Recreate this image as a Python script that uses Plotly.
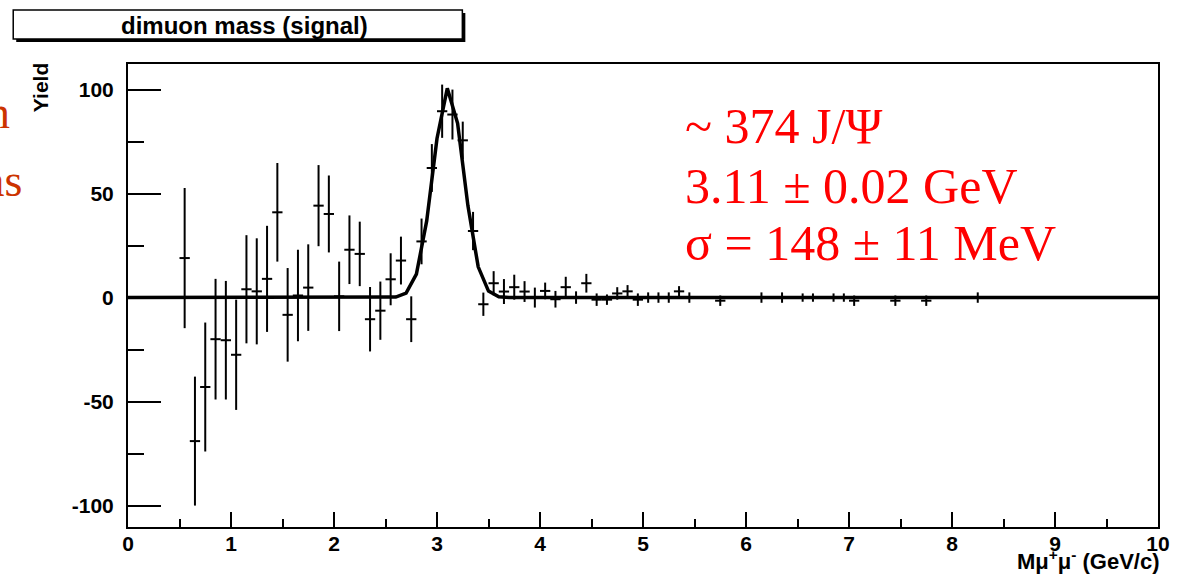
import numpy as np
import plotly.graph_objects as go

# Background-subtracted dimuon mass spectrum (0.1 GeV/c bins)
mass_bins = [0.55, 0.65, 0.75, 0.85, 0.95, 1.05, 1.15, 1.25, 1.35, 1.45,
             1.55, 1.65, 1.75, 1.85, 1.95, 2.05, 2.15, 2.25, 2.35, 2.45,
             2.55, 2.65, 2.75, 2.85, 2.95, 3.05, 3.15, 3.25, 3.35, 3.45,
             3.55, 3.65, 3.75, 3.85, 3.95, 4.05, 4.15, 4.25, 4.35, 4.45,
             4.55, 4.65, 4.75, 4.85, 4.95, 5.05, 5.15, 5.25, 5.35, 5.45,
             5.75, 6.15, 6.35, 6.55, 6.65, 6.85, 6.95, 7.05, 7.45, 7.75,
             8.25]
yield_vals = [19.0, -69.0, -43.0, -20.0, -20.5, -27.5, 4.0, 3.0, 9.0, 41.0,
              -8.3, 1.0, 4.8, 44.2, 40.2, 0.6, 23.0, 21.0, -10.4, -6.3,
              8.8, 17.8, -10.4, 27.0, 62.3, 89.6, 88.0, 75.6, 32.0, -3.2,
              6.9, 2.9, 5.0, 2.9, 0.0, 3.2, -0.8, 5.0, 0.0, 6.9,
              -1.0, -1.0, 2.0, 3.0, -1.0, 0.0, 0.0, 0.0, 3.0, 0.0,
              -1.5, 0.0, 0.0, 0.0, 0.0, 0.0, 0.0, -1.5, -1.5, -1.5,
              0.0]
yield_errs = [33.7, 31.0, 31.0, 29.0, 28.5, 26.5, 26.0, 25.5, 25.5, 23.7,
              22.5, 22.0, 20.8, 19.5, 18.5, 16.7, 16.5, 15.5, 15.5, 14.0,
              12.5, 11.5, 11.0, 11.0, 11.5, 12.8, 12.0, 9.0, 9.2, 5.6,
              5.8, 6.0, 6.0, 5.0, 4.8, 4.0, 4.0, 5.0, 3.0, 4.5,
              3.0, 2.5, 3.0, 3.0, 3.0, 2.5, 2.5, 2.5, 2.5, 2.5,
              2.5, 2.5, 2.5, 2.0, 2.0, 2.0, 2.0, 2.5, 2.5, 2.5,
              2.5]
bin_width = 0.1

# Gaussian fit result
fit_count = 374
fit_mean = 3.11
fit_sigma = 0.148

x_ticks = list(range(0, 11))
x_tick_text = [str(v) for v in x_ticks]
y_ticks = [-100, -50, 0, 50, 100]
y_tick_text = ["-100", "-50", "0", "50", "100"]

fit_x = np.linspace(0.0, 10.0, 101)
fit_amp = fit_count * bin_width / (fit_sigma * np.sqrt(2 * np.pi))
fit_y = fit_amp * np.exp(-0.5 * ((fit_x - fit_mean) / fit_sigma) ** 2)

# plot-area geometry in pixels
W_PX, H_PX = 1182, 575
L, R, T, B = 128, 1160, 64, 527


def px(x):
    return (x - L) / (R - L)


def py(y):
    return (B - y) / (B - T)


AXFONT = dict(family="Liberation Sans, Arial", size=21, color="black", weight="bold")
TITLEFONT = dict(family="Liberation Sans, Arial", size=22, color="black", weight="bold")

fig = go.Figure()

fig.add_trace(go.Scatter(
    x=mass_bins, y=yield_vals, mode="markers",
    marker=dict(size=1, color="black"),
    error_x=dict(type="constant", value=bin_width / 2, width=0, thickness=2, color="black"),
    error_y=dict(type="data", array=yield_errs, width=0, thickness=2, color="black"),
    showlegend=False,
))

fig.add_trace(go.Scatter(
    x=fit_x, y=fit_y, mode="lines",
    line=dict(color="black", width=3.5),
    showlegend=False,
))

fig.update_xaxes(
    range=[0, 10], tickvals=x_ticks, ticktext=x_tick_text, ticks="inside", ticklen=15, tickwidth=2,
    tickcolor="black", minor=dict(dtick=0.5, ticks="inside", ticklen=8, tickwidth=2, tickcolor="black"),
    showgrid=False, zeroline=False, showline=True, linewidth=2, linecolor="black",
    mirror=True, tickfont=AXFONT, ticklabelstandoff=-3,
)
fig.update_yaxes(
    range=[-110.3, 112.3], tickvals=y_ticks, ticktext=y_tick_text, ticks="inside", ticklen=33, tickwidth=2,
    tickcolor="black", minor=dict(dtick=25, ticks="inside", ticklen=16, tickwidth=2, tickcolor="black"),
    showgrid=False, zeroline=False, showline=True, linewidth=2, linecolor="black",
    mirror=True, tickfont=AXFONT, ticklabelstandoff=8,
)

shapes = [
    # title box with drop shadow
    dict(type="rect", xref="paper", yref="paper", x0=px(16), x1=px(466), y0=py(13), y1=py(42),
         fillcolor="black", line=dict(width=0), layer="above"),
    dict(type="rect", xref="paper", yref="paper", x0=px(13), x1=px(463), y0=py(10), y1=py(39),
         fillcolor="white", line=dict(color="black", width=1.5), layer="above"),
]

red_font = dict(family="Liberation Serif, Times New Roman", size=50, color="#FF0000")
side_font = dict(family="Liberation Serif, Times New Roman", size=46, color="#CC3300")

annotations = [
    dict(text="dimuon mass (signal)", x=px(245), y=py(25), xanchor="center", yanchor="middle",
         font=dict(family="Liberation Sans, Arial", size=24, color="black", weight="bold")),
    dict(text="Yield", x=px(41), y=py(88), textangle=-90, xanchor="center", yanchor="middle",
         font=AXFONT),
    dict(text="M\u03bc<sup>+</sup>\u03bc<sup>-</sup> (GeV/c)", x=px(1164), y=py(560),
         xanchor="right", yanchor="middle", font=TITLEFONT),
    dict(text="~ 374 J/\u03a8", x=px(684), y=py(126), xanchor="left", yanchor="middle", font=red_font),
    dict(text="3.11 \u00b1 0.02 GeV", x=px(684), y=py(186), xanchor="left", yanchor="middle", font=red_font),
    dict(text="\u03c3 = 148 \u00b1 11 MeV", x=px(684), y=py(243), xanchor="left", yanchor="middle", font=red_font),
    dict(text="n", x=px(12), y=py(113), xanchor="right", yanchor="middle", font=side_font),
    dict(text="as", x=px(24), y=py(180), xanchor="right", yanchor="middle", font=side_font),
]
for a in annotations:
    a.update(xref="paper", yref="paper", showarrow=False)

fig.update_layout(
    width=W_PX, height=H_PX, autosize=False,
    margin=dict(l=L, r=W_PX - R, t=T, b=H_PX - B, pad=0),
    paper_bgcolor="white", plot_bgcolor="white",
    shapes=shapes, annotations=annotations,
)

fig.write_html("out.html")
